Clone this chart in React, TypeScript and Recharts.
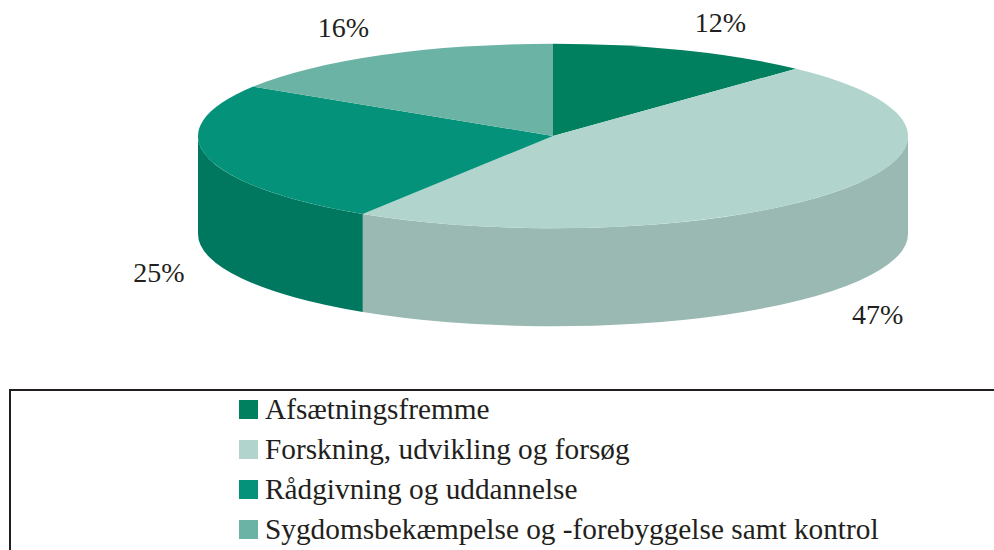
import { PieChart, Pie, Cell, Legend } from 'recharts'

const names = [
  'Afsætningsfremme',
  'Forskning, udvikling og forsøg',
  'Rådgivning og uddannelse',
  'Sygdomsbekæmpelse og -forebyggelse samt kontrol',
]
const shares = [12, 47, 25, 16]
const topColors = ['#00805F', '#B1D5CD', '#05927A', '#6AB3A5']
const sideColors = ['#006B50', '#9AB9B2', '#00785F', '#5A9A8D']

const data = names.map((name, i) => ({ name, value: shares[i] }))

const TILT = 0.26
const DEPTH = 98
const INK = '#231F20'
const FONT = '"Liberation Serif", "Times New Roman", serif'
const RAD = Math.PI / 180

function pt(cx: number, cy: number, rx: number, ry: number, a: number) {
  return [cx + rx * Math.cos(a * RAD), cy - ry * Math.sin(a * RAD)]
}

function TopFace(props: any) {
  const { cx, cy, outerRadius, startAngle, endAngle, fill } = props
  const rx = outerRadius
  const ry = outerRadius * TILT
  const [x1, y1] = pt(cx, cy, rx, ry, startAngle)
  const [x2, y2] = pt(cx, cy, rx, ry, endAngle)
  const large = Math.abs(startAngle - endAngle) > 180 ? 1 : 0
  const sweep = startAngle > endAngle ? 1 : 0
  return (
    <path
      d={`M${cx},${cy}L${x1},${y1}A${rx},${ry} 0 ${large} ${sweep} ${x2},${y2}Z`}
      fill={fill}
    />
  )
}

// only the front half of the rim is visible
function SideWall(props: any) {
  const { cx, cy, outerRadius, startAngle, endAngle, fill } = props
  const hi = Math.min(startAngle, 0)
  const lo = Math.max(endAngle, -180)
  if (hi <= lo) return <g />
  const rx = outerRadius
  const ry = outerRadius * TILT
  const [x1, y1] = pt(cx, cy, rx, ry, hi)
  const [x2, y2] = pt(cx, cy, rx, ry, lo)
  return (
    <path
      d={`M${x1},${y1}A${rx},${ry} 0 0 1 ${x2},${y2}L${x2},${y2 + DEPTH}A${rx},${ry} 0 0 0 ${x1},${y1 + DEPTH}Z`}
      fill={fill}
    />
  )
}

function renderLabel(props: any) {
  const { cx, cy, midAngle, outerRadius, value } = props
  const rx = outerRadius
  const ry = outerRadius * TILT
  const c = Math.cos(midAngle * RAD)
  const s = Math.sin(midAngle * RAD)
  const [ex, ey] = pt(cx, cy, rx, ry, midAngle)
  const x = ex + 30 * Math.sign(c) + 18 * c
  const y = ey + (s < 0 ? DEPTH : 0) - 15 * Math.sign(s) - 14 * s
  return (
    <text x={x} y={y} textAnchor="middle" dominantBaseline="central" fill={INK} fontSize={28} fontFamily={FONT}>
      {`${value}%`}
    </text>
  )
}

function renderLegend(props: any) {
  const items = (props.payload || []).filter((p: any) => p.type !== 'none')
  return (
    <div
      style={{
        boxSizing: 'border-box',
        width: 1000,
        height: 200,
        border: `2px solid ${INK}`,
        paddingLeft: 228,
        fontFamily: FONT,
        fontSize: 29.3,
        color: INK,
      }}
    >
      <div style={{ marginTop: -2 }}>
        {items.map((p: any) => (
          <div key={p.value} style={{ height: 40, lineHeight: '40px', whiteSpace: 'nowrap' }}>
            <span
              style={{
                display: 'inline-block',
                width: 19,
                height: 19,
                marginRight: 7,
                backgroundColor: p.color,
              }}
            />
            {p.value}
          </div>
        ))}
      </div>
    </div>
  )
}

export default function App() {
  return (
    <div style={{ position: 'absolute', left: 0, top: 0, width: 994, height: 550, overflow: 'hidden', background: '#fff' }}>
      <PieChart width={994} height={550} margin={{ top: 0, right: 0, bottom: 0, left: 0 }}>
        <Pie
          data={data}
          dataKey="value"
          nameKey="name"
          cx={553}
          cy={136}
          outerRadius={355}
          startAngle={90}
          endAngle={-270}
          stroke="none"
          legendType="none"
          shape={SideWall}
          activeShape={SideWall}
          inactiveShape={SideWall}
          isAnimationActive={false}
        >
          {data.map((d, i) => (
            <Cell key={d.name} fill={sideColors[i]} />
          ))}
        </Pie>
        <Pie
          data={data}
          dataKey="value"
          nameKey="name"
          cx={553}
          cy={136}
          outerRadius={355}
          startAngle={90}
          endAngle={-270}
          stroke="none"
          legendType="square"
          shape={TopFace}
          activeShape={TopFace}
          inactiveShape={TopFace}
          label={renderLabel}
          labelLine={false}
          isAnimationActive={false}
        >
          {data.map((d, i) => (
            <Cell key={d.name} fill={topColors[i]} />
          ))}
        </Pie>
        <Legend
          content={renderLegend}
          wrapperStyle={{ position: 'absolute', left: 9, top: 389, bottom: 'auto', width: 1000, height: 200 }}
        />
      </PieChart>
    </div>
  )
}
